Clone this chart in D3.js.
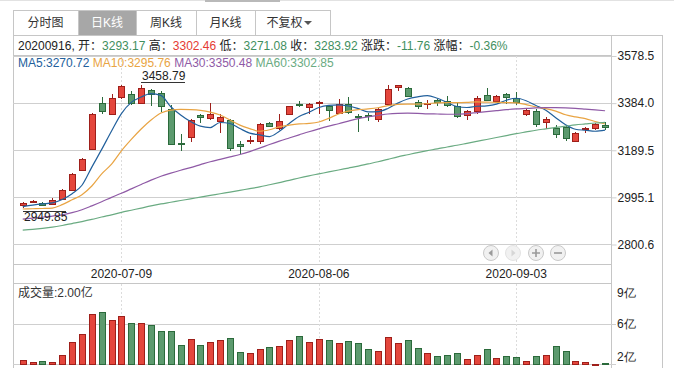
<!DOCTYPE html>
<html>
<head>
<meta charset="utf-8">
<script src="https://cdn.jsdelivr.net/npm/d3@7"></script>
<style>
    body { margin: 0; background: #fff; }
    svg { display: block; font-family: "Liberation Sans", "Noto Sans CJK SC", sans-serif; }
</style>
</head>
<body>
<svg id="chart" width="674" height="377"></svg>
<script>
// ---- data ----
const dates = [
    '2020-06-23', '2020-06-24', '2020-06-29', '2020-06-30',
    '2020-07-01', '2020-07-02', '2020-07-03', '2020-07-06', '2020-07-07', '2020-07-08',
    '2020-07-09', '2020-07-10', '2020-07-13', '2020-07-14', '2020-07-15', '2020-07-16',
    '2020-07-17', '2020-07-20', '2020-07-21', '2020-07-22', '2020-07-23', '2020-07-24',
    '2020-07-27', '2020-07-28', '2020-07-29', '2020-07-30', '2020-07-31',
    '2020-08-03', '2020-08-04', '2020-08-05', '2020-08-06', '2020-08-07', '2020-08-10',
    '2020-08-11', '2020-08-12', '2020-08-13', '2020-08-14', '2020-08-17', '2020-08-18',
    '2020-08-19', '2020-08-20', '2020-08-21', '2020-08-24', '2020-08-25', '2020-08-26',
    '2020-08-27', '2020-08-28', '2020-08-31',
    '2020-09-01', '2020-09-02', '2020-09-03', '2020-09-04', '2020-09-07', '2020-09-08',
    '2020-09-09', '2020-09-10', '2020-09-11', '2020-09-14', '2020-09-15', '2020-09-16'
];
const open = [
    2960.5, 2975.0, 2968.8, 2966.0, 2988.0, 3024.0, 3106.7, 3189.5, 3384.0, 3338.5,
    3404.7, 3421.2, 3384.0, 3437.8, 3424.0, 3359.2, 3218.5, 3241.9, 3331.6, 3317.8,
    3308.1, 3310.9, 3212.9, 3225.4, 3225.4, 3301.2, 3280.5, 3334.3, 3377.1, 3368.8,
    3384.0, 3371.6, 3342.6, 3379.9, 3330.2, 3331.6, 3317.8, 3379.9, 3448.8, 3446.0,
    3386.8, 3378.5, 3393.7, 3390.9, 3371.6, 3334.3, 3349.5, 3417.1, 3390.9, 3421.2,
    3404.7, 3338.5, 3350.9, 3304.0, 3280.5, 3283.3, 3226.7, 3276.4, 3280.5, 3293.17
];
const high = [
    2973.0, 2981.0, 2975.7, 2990.8, 3028.0, 3093.0, 3156.0, 3339.9, 3407.5, 3418.5,
    3456.0, 3432.0, 3458.79, 3442.0, 3432.0, 3375.7, 3253.0, 3317.8, 3338.5, 3384.0,
    3338.5, 3316.4, 3225.4, 3244.7, 3301.2, 3304.0, 3335.7, 3371.6, 3391.0, 3384.0,
    3391.0, 3374.3, 3399.2, 3408.8, 3338.5, 3341.2, 3363.3, 3455.7, 3456.5, 3448.8,
    3396.4, 3396.4, 3400.6, 3410.2, 3386.8, 3352.3, 3410.2, 3446.0, 3415.7, 3424.0,
    3426.8, 3357.8, 3359.2, 3324.7, 3290.2, 3290.2, 3262.6, 3283.3, 3301.2, 3302.46
];
const low = [
    2949.85, 2970.0, 2956.0, 2963.0, 2985.0, 3021.0, 3104.0, 3186.7, 3338.5, 3334.3,
    3401.0, 3373.0, 3380.0, 3368.8, 3345.4, 3210.2, 3182.6, 3221.2, 3301.2, 3313.6,
    3258.5, 3184.0, 3172.9, 3211.6, 3211.6, 3286.0, 3272.3, 3331.6, 3366.0, 3335.7,
    3335.7, 3308.1, 3335.7, 3338.5, 3262.6, 3308.1, 3304.0, 3375.7, 3432.3, 3410.0,
    3359.2, 3359.2, 3368.8, 3366.0, 3321.9, 3313.6, 3338.5, 3393.7, 3382.6, 3379.9,
    3374.3, 3330.2, 3283.3, 3276.4, 3237.8, 3226.7, 3221.2, 3259.8, 3269.5, 3271.08
];
const close = [
    2970.1, 2978.4, 2960.5, 2982.6, 3024.0, 3090.2, 3152.2, 3335.7, 3349.5, 3404.7,
    3451.6, 3384.0, 3446.0, 3421.2, 3368.8, 3214.3, 3215.7, 3313.6, 3321.9, 3335.7,
    3324.7, 3196.4, 3206.0, 3229.5, 3297.1, 3288.8, 3308.1, 3368.8, 3373.0, 3379.9,
    3388.1, 3355.0, 3379.9, 3345.4, 3326.0, 3326.0, 3359.2, 3441.9, 3455.7, 3414.3,
    3368.8, 3382.6, 3386.8, 3374.3, 3328.8, 3349.5, 3404.7, 3396.4, 3413.0, 3408.8,
    3386.8, 3355.0, 3297.1, 3317.8, 3255.7, 3237.8, 3259.8, 3280.5, 3297.1, 3283.92
];
// volume, 亿
const volume = [
    2.35, 2.17, 2.26, 2.17, 2.78, 4.02, 4.76, 6.61, 6.80, 6.05,
    6.43, 5.75, 5.75, 5.56, 5.01, 5.01, 3.71, 4.26, 3.71, 4.02,
    4.20, 4.39, 3.09, 2.97, 3.34, 3.52, 3.65, 4.20, 4.57, 4.02,
    4.26, 4.20, 3.93, 4.08, 3.93, 3.34, 3.15, 4.45, 3.93, 4.17,
    3.43, 2.97, 2.69, 2.78, 2.97, 2.41, 2.78, 3.34, 2.51, 2.69,
    2.60, 2.23, 2.69, 2.78, 3.62, 3.15, 2.23, 2.14, 1.98, 2.00
];
const ma5 = [
    2955, 2961, 2966, 2970, 2984, 3008, 3043, 3118, 3191, 3267,
    3339, 3385, 3407, 3421, 3414, 3367, 3333, 3306, 3287, 3281,
    3302, 3298, 3277, 3258, 3251, 3244, 3266, 3298, 3327, 3344,
    3364, 3373, 3375, 3370, 3359, 3346, 3347, 3360, 3382, 3399,
    3408, 3413, 3402, 3385, 3368, 3364, 3369, 3371, 3378, 3394,
    3402, 3392, 3372, 3353, 3322, 3293, 3274, 3270, 3266, 3270.72
];
const ma10 = [
    2945, 2946, 2947, 2949, 2963, 2983, 3004, 3040, 3090, 3130,
    3185, 3232, 3275, 3312, 3341, 3353, 3356, 3355, 3352, 3345,
    3333, 3312, 3291, 3277, 3266, 3272, 3284, 3291, 3296, 3298,
    3304, 3319, 3337, 3349, 3355, 3358, 3363, 3372, 3377, 3378,
    3378, 3380, 3383, 3384, 3384, 3385, 3387, 3386, 3385, 3384,
    3383, 3376, 3366, 3359, 3349, 3334, 3325, 3318, 3306, 3295.76
];
const ma30 = [
    2903, 2907, 2911, 2916, 2921, 2930, 2942, 2958, 2975, 2993,
    3010, 3028, 3046, 3064, 3080, 3093, 3105, 3116, 3128, 3140,
    3150, 3160, 3170, 3182, 3196, 3211, 3225, 3238, 3251, 3264,
    3276, 3287, 3297, 3308, 3318, 3325, 3331, 3337, 3340, 3341,
    3340, 3338, 3337, 3336, 3336, 3339, 3343, 3347, 3351, 3355,
    3358, 3360, 3362, 3363, 3363, 3362, 3360, 3357, 3354, 3350.48
];
const ma60 = [
    2858, 2861, 2865, 2870, 2877, 2885, 2893, 2902, 2912, 2921,
    2931, 2940, 2949, 2958, 2966, 2973, 2980, 2987, 2994, 3001,
    3008, 3015, 3022, 3029, 3036, 3045, 3054, 3063, 3073, 3082,
    3090, 3098, 3106, 3114, 3122, 3131, 3140, 3150, 3160, 3169,
    3178, 3186, 3193, 3201, 3208, 3216, 3224, 3232, 3240, 3248,
    3256, 3263, 3270, 3276, 3282, 3287, 3292, 3296, 3300, 3302.85
];
const priceTicks = [3578.5, 3384.0, 3189.5, 2995.1, 2800.6];
const volTicks = [9.45, 5.7, 1.95];
const volTickLabels = ['9亿', '6亿', '2亿'];
const labelDates = ['2020-07-09', '2020-08-06', '2020-09-03'];
const tabs = ['分时图', '日K线', '周K线', '月K线', '不复权'];
const headerFields = ['开', '高', '低', '收', '涨跌', '涨幅'];
const headerValues = ['3293.17', '3302.46', '3271.08', '3283.92', '-11.76', '-0.36%'];
const maNames = ['MA5', 'MA10', 'MA30', 'MA60'];

// ---- layout ----
const svg = d3.select('#chart');
const left = 13, axisX = 611, right = 662;
const boxTop = 35, headTop = 55, priceBottom = 264, volTop = 283, volBottom = 364, boxBottom = 368;

const UP_FILL = '#e4463c', UP_LINE = '#9e1f1a';
const DN_FILL = '#5c9a6e', DN_LINE = '#2b6a3b';
const GRID = '#cfcfcf', BORDER = '#c6c6c6';
const maColors = ['#22609c', '#e9a443', '#8f5aa6', '#6aab82'];
const txtGreen = '#3f8f5e', txtRed = '#e53a33';

const xScale = d3.scaleBand()
    .domain(dates)
    .range([17.8, 610])
    .paddingInner(0.3)
    .paddingOuter(0.15);
const cx = (d) => xScale(d) + xScale.bandwidth() / 2;

const yScale = d3.scaleLinear()
    .domain([2800.6, 3578.5])
    .range([244, 55.5]);

const vScale = d3.scaleLinear()
    .domain([volTicks[2], volTicks[0]])
    .range([volBottom, volTop]);

const rows = dates.map((d, i) => ({
    date: d, o: open[i], h: high[i], l: low[i], c: close[i], v: volume[i],
    up: close[i] >= open[i]
}));

// top strip
svg.append('rect').attr('x', 0).attr('y', 0).attr('width', 674).attr('height', 1).attr('fill', '#e2e2e2');
svg.append('rect').attr('x', 205).attr('y', 0).attr('width', 75).attr('height', 2).attr('fill', '#b9b9b9');

// tabs
const tabEdges = [13, 78, 136, 196, 255, 330];
const tabG = svg.append('g').attr('class', 'tabs');
tabs.forEach((t, i) => {
    const x0 = tabEdges[i], x1 = tabEdges[i + 1];
    const sel = i === 1;
    tabG.append('rect')
        .attr('x', x0 + 0.5).attr('y', 10.5)
        .attr('width', x1 - x0).attr('height', 25)
        .attr('fill', sel ? '#a7a7a7' : '#fff')
        .attr('stroke', BORDER);
    const isLast = i === tabs.length - 1;
    tabG.append('text')
        .attr('x', isLast ? (x0 + x1) / 2 - 8 : (x0 + x1) / 2)
        .attr('y', 23)
        .attr('text-anchor', 'middle')
        .attr('dominant-baseline', 'central')
        .attr('font-size', 12)
        .attr('fill', sel ? '#fff' : '#333')
        .text(t);
    if (isLast) {
        tabG.append('path')
            .attr('d', `M${x1 - 26},21 h8 l-4,4 z`)
            .attr('fill', '#555');
    }
});

// frame
const frame = svg.append('g').attr('class', 'frame')
    .attr('stroke', BORDER).attr('fill', 'none');
frame.append('line').attr('x1', left).attr('x2', right).attr('y1', boxTop + 0.5).attr('y2', boxTop + 0.5);
frame.append('line').attr('x1', left + 0.5).attr('x2', left + 0.5).attr('y1', boxTop).attr('y2', boxBottom);
frame.append('line').attr('x1', right + 0.5).attr('x2', right + 0.5).attr('y1', boxTop).attr('y2', boxBottom);
frame.append('line').attr('x1', axisX + 0.5).attr('x2', axisX + 0.5).attr('y1', boxTop).attr('y2', boxBottom);
frame.append('line').attr('x1', left).attr('x2', axisX).attr('y1', headTop + 0.5).attr('y2', headTop + 0.5);
frame.append('line').attr('x1', left).attr('x2', axisX).attr('y1', priceBottom + 0.5).attr('y2', priceBottom + 0.5);
frame.append('line').attr('x1', left).attr('x2', axisX).attr('y1', volTop + 0.5).attr('y2', volTop + 0.5);

// header line
const head = svg.append('text')
    .attr('x', 18).attr('y', 46)
    .attr('dominant-baseline', 'central')
    .attr('font-size', 12)
    .attr('fill', '#222');
head.append('tspan').text(dates[dates.length - 1].replace(/-/g, '') + ', ');
headerFields.forEach((f, i) => {
    head.append('tspan').attr('fill', '#222').text((i ? ' ' : '') + f + '：');
    head.append('tspan').attr('fill', i === 1 ? txtRed : txtGreen).text(headerValues[i]);
});

// MA legend
const maLast = [ma5, ma10, ma30, ma60].map(a => a[a.length - 1]);
const leg = svg.append('text')
    .attr('x', 18).attr('y', 63)
    .attr('dominant-baseline', 'central')
    .attr('font-size', 12);
maNames.forEach((n, i) => {
    leg.append('tspan').attr('fill', maColors[i])
        .text((i ? ' ' : '') + n + ':' + maLast[i].toFixed(2));
});

// gridlines
const grid = svg.append('g').attr('class', 'grid').attr('stroke', GRID);
grid.selectAll('line.p')
    .data(priceTicks)
    .enter().append('line')
    .attr('class', 'p')
    .attr('x1', left).attr('x2', axisX)
    .attr('y1', d => Math.round(yScale(d)) + 0.5)
    .attr('y2', d => Math.round(yScale(d)) + 0.5);
grid.append('line')
    .attr('x1', left).attr('x2', axisX)
    .attr('y1', Math.round(vScale(volTicks[1])) + 0.5)
    .attr('y2', Math.round(vScale(volTicks[1])) + 0.5);
grid.append('line')
    .attr('x1', left).attr('x2', axisX + 5)
    .attr('y1', volBottom + 0.5).attr('y2', volBottom + 0.5);

// dotted date lines
const dotted = svg.append('g').attr('stroke', '#dcdcdc').attr('stroke-dasharray', '2,2');
labelDates.forEach(d => {
    const x = Math.round(cx(d)) + 0.5;
    dotted.append('line').attr('x1', x).attr('x2', x).attr('y1', headTop + 1).attr('y2', priceBottom);
    dotted.append('line').attr('x1', x).attr('x2', x).attr('y1', volTop + 1).attr('y2', volBottom);
});

// price axis
const yAxis = d3.axisRight(yScale)
    .tickValues(priceTicks)
    .tickSize(5)
    .tickPadding(1)
    .tickFormat(d3.format('.1f'));
const yAxisG = svg.append('g')
    .attr('transform', `translate(${axisX + 0.5},0.5)`)
    .call(yAxis);
yAxisG.select('.domain').remove();
yAxisG.selectAll('line').attr('stroke', GRID);
yAxisG.selectAll('text').attr('font-size', 12).attr('fill', '#222')
    .attr('font-family', '"Liberation Sans", sans-serif');

// volume axis
const volShift = [10, 0, -7];
const vAxis = d3.axisRight(vScale)
    .tickValues(volTicks)
    .tickSize(0)
    .tickPadding(6)
    .tickFormat((d, i) => volTickLabels[i]);
const vAxisG = svg.append('g')
    .attr('transform', `translate(${axisX},0)`)
    .call(vAxis);
vAxisG.select('.domain').remove();
vAxisG.selectAll('text')
    .attr('font-size', 12).attr('fill', '#222')
    .attr('transform', (d, i) => `translate(0,${volShift[i]})`);
vAxisG.append('line').attr('x1', 0).attr('x2', 5)
    .attr('y1', Math.round(vScale(volTicks[1])) + 0.5).attr('y2', Math.round(vScale(volTicks[1])) + 0.5)
    .attr('stroke', GRID);

// x axis
const xAxis = d3.axisBottom(xScale)
    .tickValues(labelDates)
    .tickSize(0)
    .tickPadding(5);
const xAxisG = svg.append('g')
    .attr('transform', `translate(0,${priceBottom})`)
    .call(xAxis);
xAxisG.select('.domain').remove();
xAxisG.selectAll('text').attr('font-size', 12).attr('fill', '#222');

// candles
const candles = svg.append('g').attr('class', 'candles')
    .selectAll('g')
    .data(rows)
    .enter().append('g');
const bodyX = d => Math.round(cx(d.date) - 3) + 0.5;
candles.append('line')
    .attr('x1', d => bodyX(d) + 3).attr('x2', d => bodyX(d) + 3)
    .attr('y1', d => Math.round(yScale(d.h)))
    .attr('y2', d => Math.round(yScale(d.l)))
    .attr('stroke', d => d.up ? UP_LINE : DN_LINE);
candles.append('rect')
    .attr('x', bodyX)
    .attr('y', d => Math.round(yScale(Math.max(d.o, d.c))) + 0.5)
    .attr('width', 6)
    .attr('height', d => Math.max(1, Math.round(Math.abs(yScale(d.o) - yScale(d.c)))))
    .attr('fill', d => d.up ? UP_FILL : DN_FILL)
    .attr('stroke', d => d.up ? UP_LINE : DN_LINE);

// moving averages
const maLine = d3.line()
    .x((v, i) => cx(dates[i]))
    .y(v => yScale(v))
    .curve(d3.curveMonotoneX);
[ma5, ma10, ma30, ma60].forEach((series, i) => {
    svg.append('path')
        .attr('d', maLine(series))
        .attr('fill', 'none')
        .attr('stroke', maColors[i])
        .attr('stroke-width', 1.2);
});

// max / min markers
const iMax = d3.maxIndex(high), iMin = d3.minIndex(low);
const markG = svg.append('g').attr('font-size', 12).attr('fill', '#222');
const xMax = Math.round(cx(dates[iMax])), yMax = yScale(high[iMax]);
markG.append('text').attr('x', xMax + 1).attr('y', yMax - 5).text(high[iMax].toFixed(2));
markG.append('line').attr('x1', xMax).attr('x2', xMax + 44)
    .attr('y1', Math.round(yMax - 3) + 0.5).attr('y2', Math.round(yMax - 3) + 0.5)
    .attr('stroke', '#333');
const xMin = Math.round(cx(dates[iMin])), yMin = yScale(low[iMin]);
markG.append('line').attr('x1', xMin).attr('x2', xMin + 43)
    .attr('y1', Math.round(yMin + 3.5) + 0.5).attr('y2', Math.round(yMin + 3.5) + 0.5)
    .attr('stroke', '#333');
markG.append('text').attr('x', xMin + 1).attr('y', yMin + 13.5).text(low[iMin].toFixed(2));

// nav buttons
const navX = [491, 513, 536, 558];
const nav = svg.append('g').attr('class', 'nav');
navX.forEach((x, i) => {
    nav.append('circle').attr('cx', x).attr('cy', 253).attr('r', 7.5)
        .attr('fill', '#f1f1f1').attr('stroke', i === 1 ? '#e3e3e3' : '#c9c9c9');
});
nav.append('path').attr('d', `M${navX[0] - 2.5},253 l4,-3.5 v7 z`).attr('fill', '#9a9a9a');
nav.append('path').attr('d', `M${navX[1] + 2.5},253 l-4,-3.5 v7 z`).attr('fill', '#d6d6d6');
nav.append('path').attr('d', `M${navX[2] - 4},253 h8 M${navX[2]},249 v8`)
    .attr('stroke', '#9a9a9a').attr('stroke-width', 1.6);
nav.append('path').attr('d', `M${navX[3] - 4},253 h8`)
    .attr('stroke', '#9a9a9a').attr('stroke-width', 1.6);

// volume bars
svg.append('g').attr('class', 'vol')
    .selectAll('rect')
    .data(rows)
    .enter().append('rect')
    .attr('x', bodyX)
    .attr('y', d => Math.round(vScale(d.v)) + 0.5)
    .attr('width', 6)
    .attr('height', d => Math.max(1, volBottom - Math.round(vScale(d.v))))
    .attr('fill', d => d.up ? UP_FILL : DN_FILL)
    .attr('stroke', d => d.up ? UP_LINE : DN_LINE);

svg.append('text')
    .attr('x', 18).attr('y', 293)
    .attr('dominant-baseline', 'central')
    .attr('font-size', 12).attr('fill', '#333')
    .text('成交量:' + volume[volume.length - 1].toFixed(2) + '亿');
</script>
</body>
</html>
